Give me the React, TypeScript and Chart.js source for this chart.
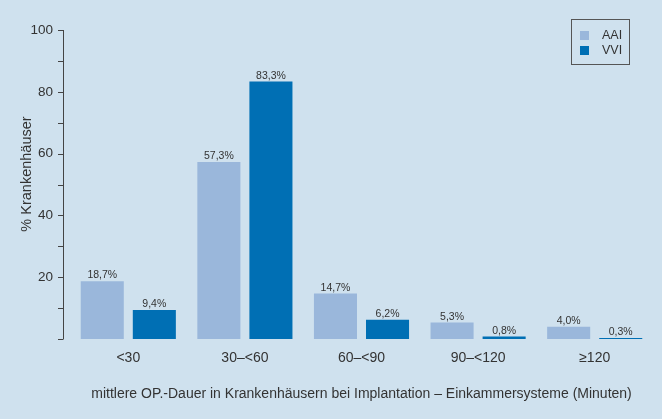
import React, { useEffect, useRef } from "react";
import { Chart, registerables } from "chart.js";

Chart.register(...registerables);

const categories = ["<30", "30\u2013<60", "60\u2013<90", "90\u2013<120", "\u2265120"];
const aaiValues = [18.7, 57.3, 14.7, 5.3, 4.0];
const vviValues = [9.4, 83.3, 6.2, 0.8, 0.3];
const seriesNames = ["AAI", "VVI"];
const yTitle = "% Krankenh\u00e4user";
const xTitle = "mittlere OP.-Dauer in Krankenh\u00e4usern bei Implantation \u2013 Einkammersysteme (Minuten)";

const BG = "#cfe1ee";
const AAI_COLOR = "#9ab7db";
const VVI_COLOR = "#006fb4";
const TEXT = "#333333";
const AXIS = "#444444";
const FONT = "'Liberation Sans', Arial, sans-serif";

const yAxisPlugin = {
  id: "yAxisDraw",
  afterDraw(chart: any) {
    const { ctx, chartArea } = chart;
    const y = chart.scales.y;
    const x0 = chartArea.left - 7;
    ctx.save();
    ctx.strokeStyle = AXIS;
    ctx.lineWidth = 1;
    ctx.beginPath();
    ctx.moveTo(x0 + 0.5, y.getPixelForValue(y.max));
    ctx.lineTo(x0 + 0.5, y.getPixelForValue(y.min));
    for (const t of y.ticks) {
      const py = Math.round(y.getPixelForValue(t.value)) + 0.5;
      ctx.moveTo(x0 + 0.5, py);
      ctx.lineTo(x0 - 5, py);
    }
    ctx.stroke();
    // y title
    ctx.fillStyle = TEXT;
    ctx.font = `14.5px ${FONT}`;
    ctx.textAlign = "center";
    ctx.textBaseline = "middle";
    ctx.translate(27, 174);
    ctx.rotate(-Math.PI / 2);
    ctx.fillText(yTitle, 0, 0);
    ctx.restore();
  },
};

const dataLabelPlugin = {
  id: "dataLabels",
  afterDatasetsDraw(chart: any) {
    const { ctx } = chart;
    ctx.save();
    ctx.fillStyle = TEXT;
    ctx.font = `10.5px ${FONT}`;
    ctx.textAlign = "center";
    ctx.textBaseline = "alphabetic";
    chart.data.datasets.forEach((ds: any, i: number) => {
      const meta = chart.getDatasetMeta(i);
      meta.data.forEach((bar: any, j: number) => {
        const v = ds.data[j] as number;
        const txt = v.toFixed(1).replace(".", ",") + "%";
        ctx.fillText(txt, bar.x, bar.y - 3);
      });
    });
    ctx.restore();
  },
};

const legendPlugin = {
  id: "boxLegend",
  afterDraw(chart: any) {
    const { ctx } = chart;
    const bx = 571, by = 19, bw = 58, bh = 45;
    ctx.save();
    ctx.strokeStyle = "#555555";
    ctx.lineWidth = 1;
    ctx.strokeRect(bx + 0.5, by + 0.5, bw, bh);
    ctx.font = `12.5px ${FONT}`;
    ctx.textBaseline = "middle";
    ctx.textAlign = "left";
    chart.data.datasets.forEach((ds: any, i: number) => {
      const cy = by + 16 + i * 15;
      ctx.fillStyle = ds.backgroundColor;
      ctx.fillRect(bx + 9, cy - 4, 9, 9);
      ctx.fillStyle = TEXT;
      ctx.fillText(ds.label, bx + 31, cy + 1);
    });
    ctx.restore();
  },
};

export default function App() {
  const ref = useRef<HTMLCanvasElement>(null);
  useEffect(() => {
    if (!ref.current) return;
    const chart = new Chart(ref.current, {
      type: "bar",
      data: {
        labels: categories,
        datasets: [
          { label: seriesNames[0], data: aaiValues, backgroundColor: AAI_COLOR },
          { label: seriesNames[1], data: vviValues, backgroundColor: VVI_COLOR },
        ],
      },
      options: {
        animation: false,
        responsive: false,
        maintainAspectRatio: false,
        layout: { padding: { top: 30, right: 9, left: 0, bottom: 0 } },
        datasets: { bar: { categoryPercentage: 0.893, barPercentage: 0.827 } },
        plugins: { legend: { display: false }, tooltip: { enabled: false } },
        scales: {
          x: {
            grid: { display: false },
            border: { display: false },
            ticks: { color: TEXT, font: { size: 14, family: FONT }, padding: 3, maxRotation: 0 },
            title: {
              display: true,
              text: xTitle,
              color: TEXT,
              font: { size: 14, family: FONT },
              padding: { top: 0, bottom: 16 },
            },
            afterFit: (s: any) => { s.height = 80; },
          },
          y: {
            min: 0,
            max: 100,
            grid: { display: false },
            border: { display: false },
            ticks: {
              stepSize: 10,
              color: TEXT,
              font: { size: 13.5, family: FONT },
              padding: 9,
              callback: (v: any) => (v !== 0 && v % 20 === 0 ? String(v) : ""),
            },
            afterFit: (s: any) => { s.width = 70; },
          },
        },
      },
      plugins: [yAxisPlugin, dataLabelPlugin, legendPlugin],
    });
    return () => chart.destroy();
  }, []);
  return (
    <div style={{ position: "fixed", left: 0, top: 0, width: 662, height: 419, background: BG }}>
      <canvas ref={ref} width={662} height={419} style={{ width: 662, height: 419, display: "block" }} />
    </div>
  );
}
